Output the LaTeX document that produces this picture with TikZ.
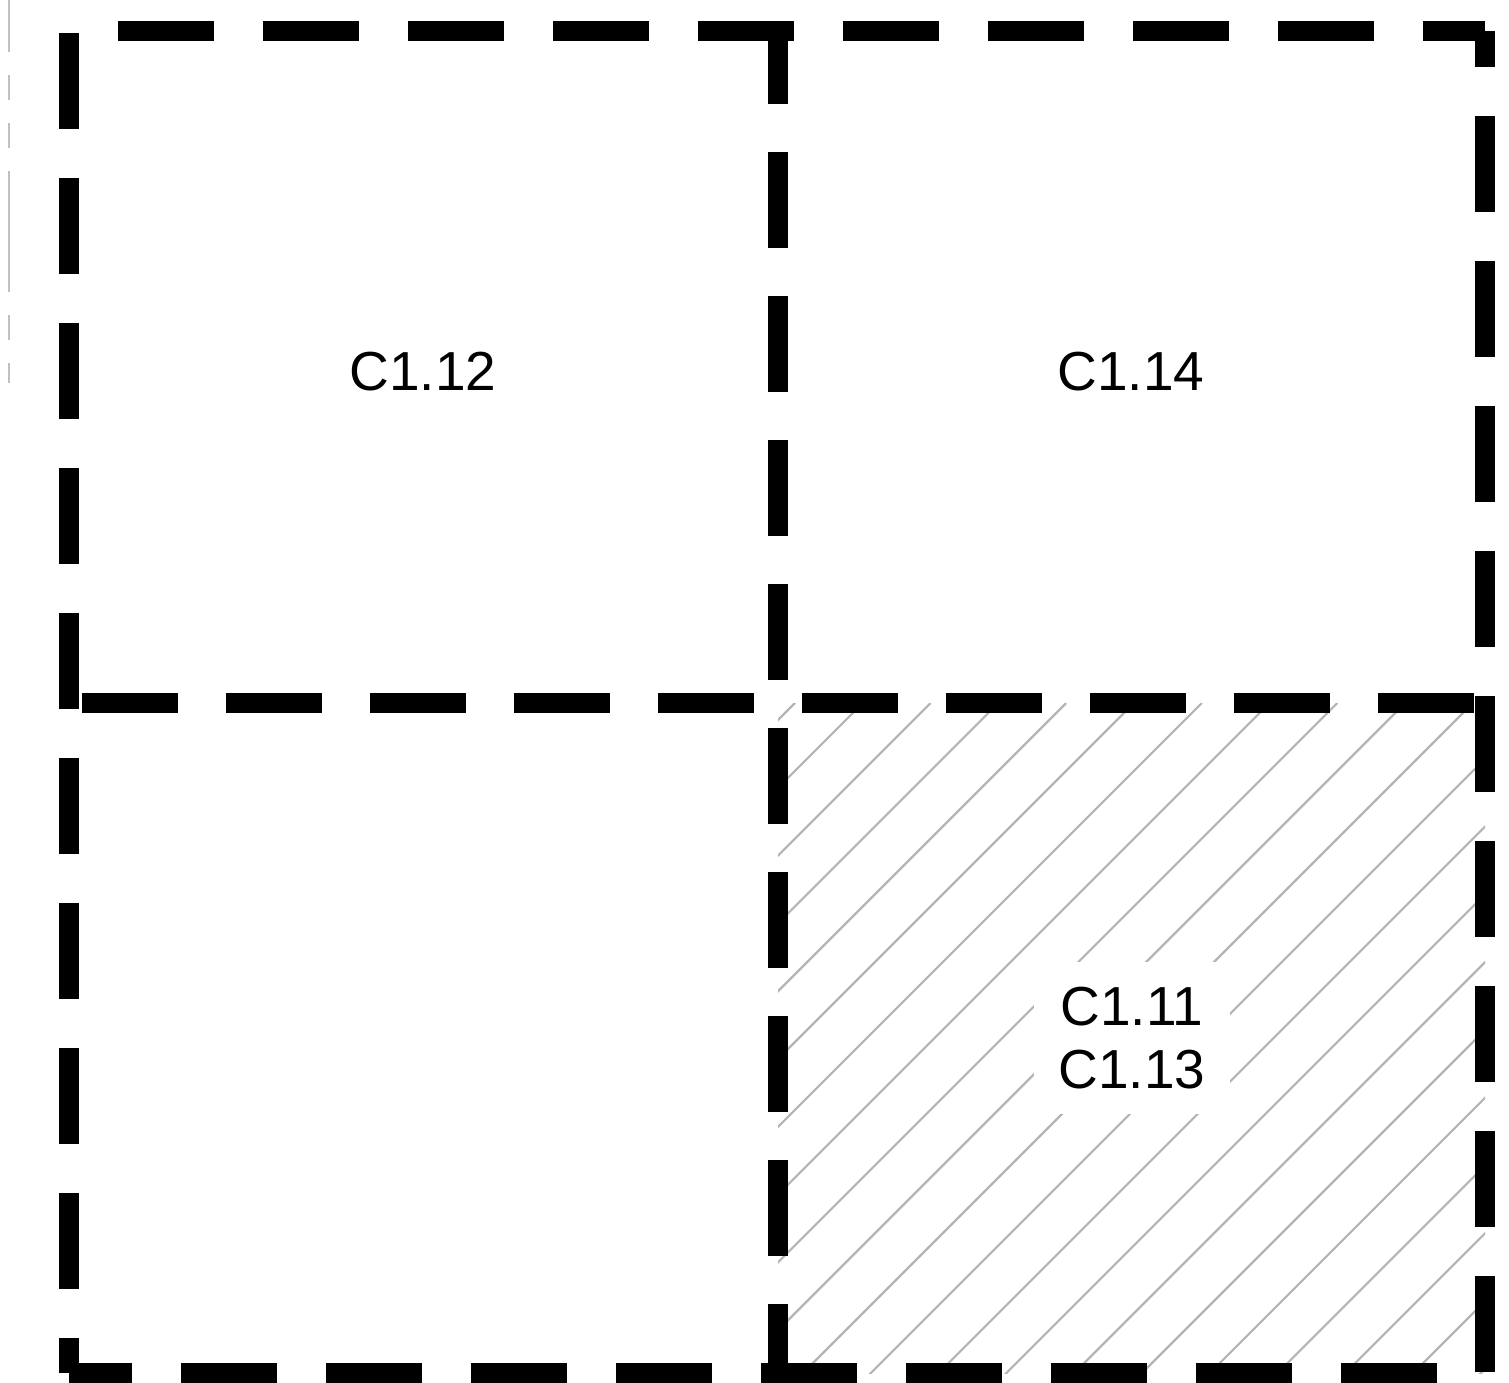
\documentclass[tikz,border=0pt]{standalone}
\usepackage{fontspec}
\setmainfont{Liberation Sans}
\definecolor{hatchgray}{RGB}{180,180,180}
\definecolor{guidegray}{RGB}{192,192,192}
\begin{document}
\begin{tikzpicture}[x=1pt,y=-1pt,
    wall/.style={line width=20pt,dash pattern=on 96pt off 49pt},
    split/.style={line width=20pt,dash pattern=on 96pt off 48pt},
    roomlabel/.style={font=\fontsize{55}{63}\selectfont,fill=white,inner sep=25pt,align=center}]
\useasboundingbox (0,0) rectangle (1509,1383);

\coordinate (NW) at (69,31);
\coordinate (N) at (778,31);
\coordinate (NE) at (1485,31);
\coordinate (W) at (69,703);
\coordinate (M) at (778,703);
\coordinate (E) at (1485,703);
\coordinate (SW) at (69,1373);
\coordinate (S) at (778,1373);
\coordinate (SE) at (1485,1373);

% hatched room
\begin{scope}
    \clip (M) rectangle (SE);
    \foreach \k in {0,...,20}
        \draw[hatchgray,line width=2.2pt] (795+67.8*\k,703) -- ++(-720,720);
\end{scope}

% faint guide on the left
\foreach \a/\b in {0/52,75/100,123/148,171/292,315/340,363/383}
    \draw[guidegray,line width=2pt] (9,\a) -- (9,\b);

\begin{scope}[every path/.style={wall}]
    \draw[dash phase=96pt] (NW) -- (NE);
    \draw[dash phase=60pt] (NE) -- (SE);
    \draw[dash phase=97pt] (SE) -- (SW);
    \draw[dash phase=61pt] (SW) -- (NW);
\end{scope}
\begin{scope}[every path/.style={split}]
    \draw[dash phase=131pt] (W) -- (E);
    \draw[dash phase=23pt] (N) -- (S);
\end{scope}

\node[roomlabel,anchor=base] (c12) at (423,390) {C1.12};
\node[roomlabel,anchor=base] (c14) at (1131,390) {C1.14};
\node[roomlabel] (c11) at (1132,1038) {C1.11\\C1.13};
\end{tikzpicture}
\end{document}
